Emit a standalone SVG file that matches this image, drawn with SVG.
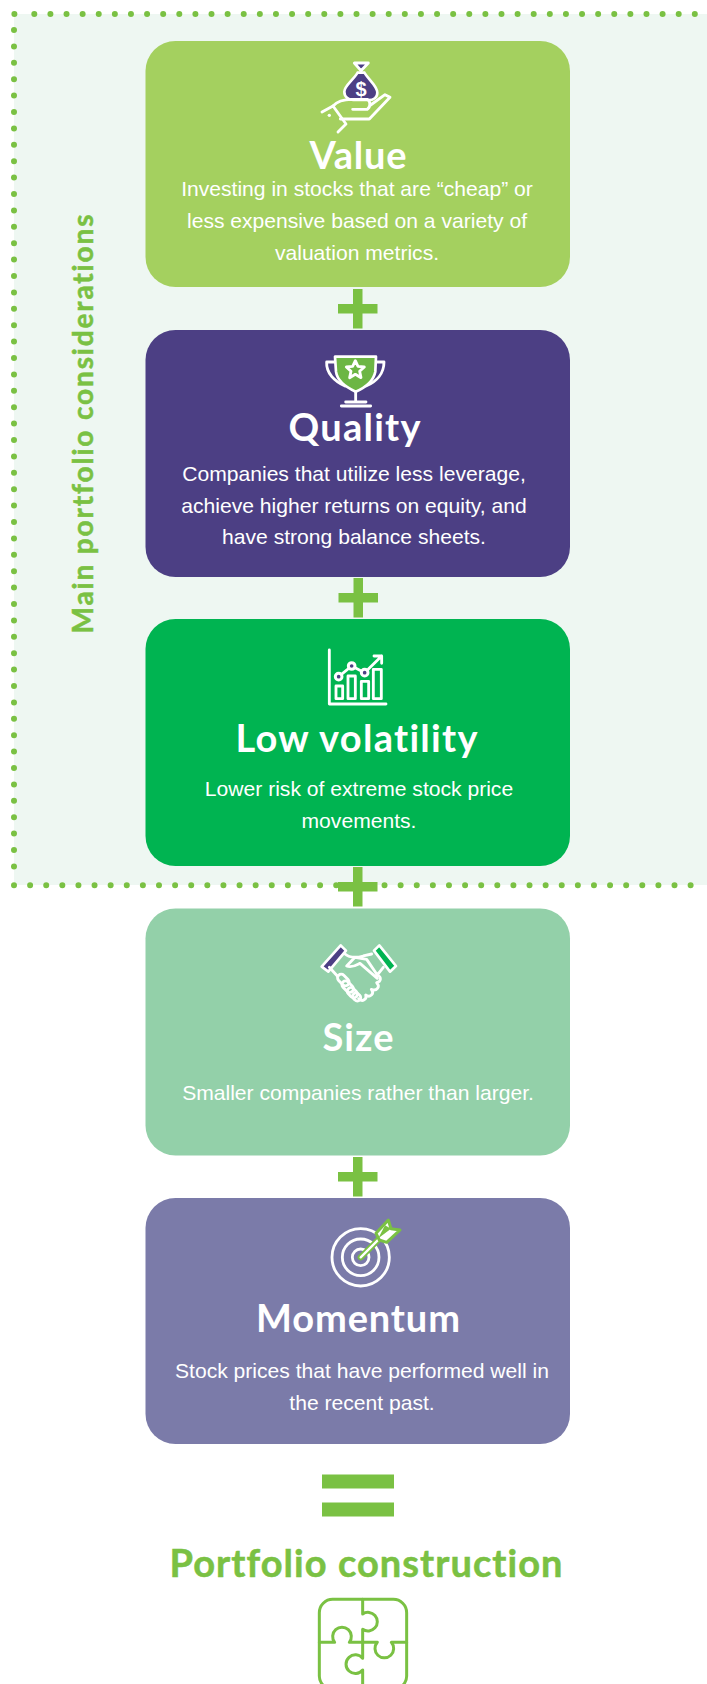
<svg xmlns="http://www.w3.org/2000/svg" width="707" height="1684" viewBox="0 0 707 1684">
<style>
.box{stroke:none}
.title{font-family:"Lato","Noto Sans",sans-serif;font-weight:700;font-size:38px;fill:#fff;text-anchor:middle;font-variant-ligatures:none}
.body{font-family:"Liberation Sans",Arial,sans-serif;font-size:21.1px;fill:#fff;text-anchor:middle}
.green{font-family:"Lato","Noto Sans",sans-serif;font-weight:700;fill:#7ac143;stroke:#7ac143;stroke-width:.5;text-anchor:middle;font-variant-ligatures:none}
.dots{fill:none;stroke:#7ac143;stroke-width:6;stroke-linecap:round}
.plus{fill:#7ac143}
.w{fill:none;stroke:#fff;stroke-width:8.5;stroke-linecap:round;stroke-linejoin:round}
.p{fill:none;stroke:#7ac143;stroke-width:9;stroke-linecap:round;stroke-linejoin:round}
</style>
<rect width="707" height="1684" fill="#fff"/>
<g id="region">
<rect x="14" y="14" width="693" height="871" fill="#eef7f2"/>
<path class="dots" d="M14.4 14h0"/>
<path class="dots" d="M34.3 14H695" stroke-dasharray="0 16.11"/>
<path class="dots" d="M14 30V867" stroke-dasharray="0 16.4"/>
<path class="dots" d="M14 885.3H691" stroke-dasharray="0 16.11"/>
<text class="green" font-size="28" transform="translate(93 424) rotate(-90)" textLength="419">Main portfolio considerations</text>
</g>
<g id="connectors">
<path class="plus" d="M353 289h9.5v15h15v9.5h-15v15h-9.5v-15h-15v-9.5h15z"/>
<path class="plus" d="M353.5 578h9.5v15h15v9.5h-15v15h-9.5v-15h-15v-9.5h15z"/>
<path class="plus" d="M353 867h9.5v15h15v9.5h-15v15h-9.5v-15h-15v-9.5h15z"/>
<path class="plus" d="M353 1157h9.5v15h15v9.5h-15v15h-9.5v-15h-15v-9.5h15z"/>
<rect class="plus" x="322" y="1474.5" width="72" height="14"/>
<rect class="plus" x="322" y="1502.5" width="72" height="14"/>
</g>
<g id="value">
<rect class="box" x="145.5" y="41" width="424.5" height="246" rx="30" fill="#a4d05f"/>
<g transform="translate(310 50) scale(.3333)">
<path d="M133 39H175L153 62Z" fill="#4c3f84" stroke="#fff" stroke-width="8.5" stroke-linejoin="round"/>
<path d="M143 68H163C178 92 202 108 202 128C202 142 190 150 175 150H130C115 150 103 140 103 125C103 108 128 92 143 68Z" fill="#4c3f84" stroke="#fff" stroke-width="8"/>
<path class="w" d="M36 186L69 168L108 222L84 246"/>
<path class="w" d="M69 168C85 150 105 148 125 148L172 148C182 152 182 172 172 178H128"/>
<path class="w" d="M182 165L225 134L240 142L178 207H91"/>
<circle cx="58" cy="196" r="5" fill="#fff"/>
</g>
<text x="361" y="96" font-family="Liberation Sans,sans-serif" font-size="20" font-weight="700" fill="#fff" text-anchor="middle">$</text>
<text class="title" x="358" y="169" textLength="97">Value</text>
<text class="body" x="357" y="196">Investing in stocks that are “cheap” or</text>
<text class="body" x="357" y="228">less expensive based on a variety of</text>
<text class="body" x="357" y="260">valuation metrics.</text>
</g>
<g id="quality">
<rect class="box" x="145.5" y="330" width="424.5" height="247" rx="30" fill="#4c3f84"/>
<g transform="translate(280 340) scale(.3333)">
<path class="w" d="M165 66H140C138 100 165 125 195 138M288 66H312C312 100 290 125 258 138"/>
<path d="M165 50H288L286 95C280 125 250 145 227 155C205 145 172 125 168 95Z" fill="#6cb644" stroke="#fff" stroke-width="8" stroke-linejoin="round"/>
<path class="w" d="M226 62L234 79L253 81L239 94L243 113L226 103L209 113L213 94L199 81L218 79Z"/>
<path class="w" d="M227 155V185M197 186H258M184 198H272"/>
</g>
<text class="title" x="354.5" y="441" textLength="132">Quality</text>
<text class="body" x="354" y="481">Companies that utilize less leverage,</text>
<text class="body" x="354" y="513">achieve higher returns on equity, and</text>
<text class="body" x="354" y="544">have strong balance sheets.</text>
</g>
<g id="low-volatility">
<rect class="box" x="145.5" y="619" width="424.5" height="247" rx="30" fill="#00b451"/>
<g transform="translate(300 640) scale(.3333)">
<path class="w" d="M88 30V192H258"/>
<rect class="w" x="108" y="138" width="20" height="38"/>
<rect class="w" x="144" y="108" width="22" height="68"/>
<rect class="w" x="184" y="124" width="22" height="52"/>
<rect class="w" x="220" y="88" width="24" height="88"/>
<path class="w" d="M116 110L155 78L194 98L245 48M222 48H245V70"/>
<g fill="#4c3f84" stroke="#fff" stroke-width="9"><circle cx="116" cy="110" r="10"/><circle cx="155" cy="78" r="10"/><circle cx="194" cy="98" r="10"/></g>
</g>
<text class="title" x="356.5" y="752" textLength="242">Low volatility</text>
<text class="body" x="359" y="796">Lower risk of extreme stock price</text>
<text class="body" x="359" y="828">movements.</text>
</g>
<g id="size">
<rect class="box" x="145.5" y="908.5" width="424.5" height="247" rx="30" fill="#93d0a9"/>
<g transform="translate(300 930) scale(.3333)">
<path d="M65 110L122 46L138 62L85 125Z" fill="#4c3f84" stroke="#fff" stroke-width="8" stroke-linejoin="round"/>
<path d="M222 62L238 46L288 108L270 125Z" fill="#00b451" stroke="#fff" stroke-width="8" stroke-linejoin="round"/>
<path class="w" d="M135 72C150 85 175 82 190 78L215 72M88 112L112 138M250 112L232 135M140 108L165 82L200 88L232 135M140 108C155 115 170 105 180 100L232 145"/>
<g class="w"><rect x="-20" y="-11" width="40" height="22" rx="11" transform="translate(130 150) rotate(45)"/><rect x="-20" y="-11" width="40" height="22" rx="11" transform="translate(143 170) rotate(45)"/><rect x="-17" y="-11" width="34" height="22" rx="11" transform="translate(157 188) rotate(45)"/><rect x="-13" y="-10" width="26" height="20" rx="10" transform="translate(170 201) rotate(45)"/></g>
<path class="w" d="M176 206C187 218 202 207 197 195C212 205 224 190 214 178C230 185 242 170 230 158C243 155 246 142 232 135"/>
</g>
<text class="title" x="358" y="1051" textLength="71">Size</text>
<text class="body" x="358" y="1100">Smaller companies rather than larger.</text>
</g>
<g id="momentum">
<rect class="box" x="145.5" y="1198" width="424.5" height="246" rx="30" fill="#7b7ba9"/>
<g transform="translate(310 1210) scale(.3333)">
<circle class="w" cx="152" cy="142" r="86"/>
<circle class="w" cx="152" cy="142" r="55"/>
<circle class="w" cx="152" cy="142" r="25"/>
<path d="M152 142L212 82" stroke="#7ac143" stroke-width="18" stroke-linecap="round"/>
<path d="M152 142L212 82" stroke="#fff" stroke-width="7" stroke-linecap="round"/>
<path d="M198 70L235 30L243 56L270 60L230 97L208 90Z" fill="#fff" stroke="#7ac143" stroke-width="9" stroke-linejoin="round"/>
<path d="M205 85L243 56L225 46Z" fill="#7ac143"/>
</g>
<text class="title" x="358" y="1332" textLength="204">Momentum</text>
<text class="body" x="362" y="1378">Stock prices that have performed well in</text>
<text class="body" x="362" y="1410">the recent past.</text>
</g>
<g id="portfolio-construction">
<text class="green" x="366" y="1577" font-size="38" textLength="393">Portfolio construction</text>
<g transform="translate(300 1590) scale(.3333)">
<path class="p" d="M98 28H280C302 28 320 46 320 68V258C320 280 302 298 280 298H98C76 298 58 280 58 258V68C58 46 76 28 98 28Z"/>
<path class="p" d="M188 28V72A28 28 0 1 1 188 118V205A28 28 0 1 0 188 240V298"/>
<path class="p" d="M58 157H104A28 28 0 1 1 148 157H232A28 28 0 1 0 274 157H320"/>
</g>
</g>
</svg>
